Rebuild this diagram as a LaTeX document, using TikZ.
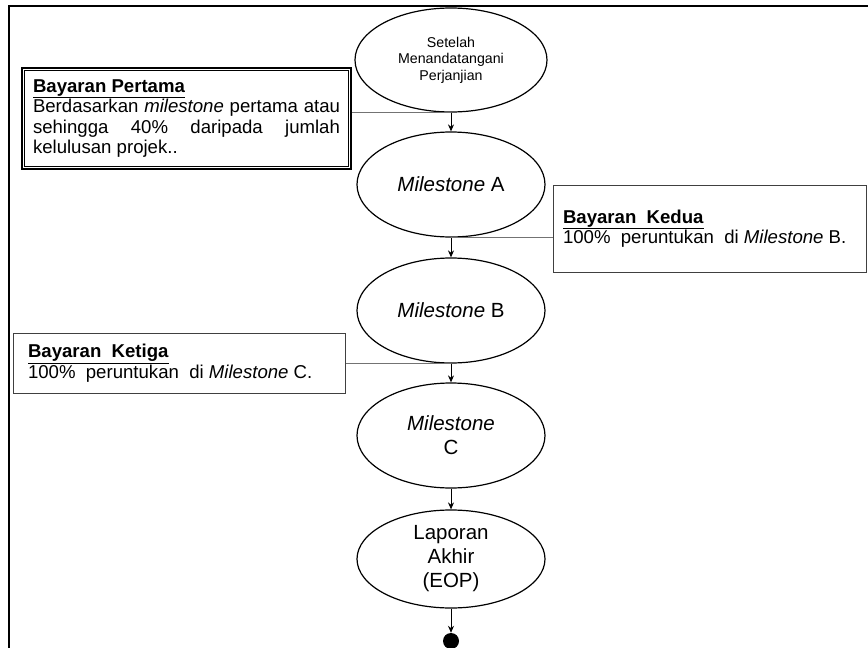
\documentclass[tikz,border=0pt]{standalone}
\usepackage{fontspec}
\setmainfont{Liberation Sans}
\usetikzlibrary{shapes.geometric,arrows.meta}
\begin{document}
\begin{tikzpicture}[x=1pt,y=-1pt,
  ell/.style={draw=black, line width=1.2pt, ellipse, inner sep=0pt, align=center,
    minimum width=188pt, minimum height=105pt, font=\fontsize{20.5}{24}\selectfont},
  pbox/.style={draw=black!75, line width=1pt, inner sep=0pt, rectangle},
  conn/.style={draw=black!55, line width=0.8pt},
  arr/.style={draw=black, line width=1pt, -{Stealth[length=7pt,width=6pt]}},
  btext/.style={font=\fontsize{18.6}{20.5}\selectfont}
]
\useasboundingbox (0,0) rectangle (868,648);
% frame
\draw[line width=2pt] (9,648) -- (9,6) -- (868,6);

% ellipses
\node[ell, minimum width=192pt, minimum height=104pt, font=\fontsize{14.2}{16.5}\selectfont] (e1) at (451,60) {Setelah\\Menandatangani\\Perjanjian};
\node[ell] (e2) at (451,184.5) {\textit{Milestone} A};
\node[ell] (e3) at (451,310.5) {\textit{Milestone} B};
\node[ell] (e4) at (451,435.5) {\textit{Milestone}\\C};
\node[ell, minimum height=98pt] (e5) at (451,559) {Laporan\\Akhir\\(EOP)};
\node[circle, fill=black, inner sep=0pt, minimum size=16pt] (dot) at (451,641) {};

% arrows
\draw[arr] (e1.south) -- (e2.north);
\draw[arr] (e2.south) -- (e3.north);
\draw[arr] (e3.south) -- (e4.north);
\draw[arr] (e4.south) -- (e5.north);
\draw[arr] (e5.south) -- (dot.north);

% box 1 (double border)
\node[pbox, draw=black, line width=1.8pt, minimum width=329pt, minimum height=101pt, btext] (b1) at (186.5,118.5)
  {\parbox{307pt}{\underline{\textbf{Bayaran Pertama}}\par
   Berdasarkan \textit{milestone} pertama atau\linebreak
   sehingga 40\% daripada jumlah\linebreak
   kelulusan projek..}};
\draw[black, line width=0.9pt] ([xshift=3.5pt,yshift=-3.5pt]b1.north west) rectangle ([xshift=-3.5pt,yshift=3.5pt]b1.south east);

% box 2
\node[pbox, minimum width=313pt, minimum height=87pt, btext] (b2) at (709.5,228.5)
  {\parbox{293pt}{\underline{\textbf{Bayaran\ \ Kedua}}\\
   100\%\ \ peruntukan\ \ di \textit{Milestone} B.}};

% box 3
\node[pbox, minimum width=332pt, minimum height=60pt, btext] (b3) at (179,363)
  {\parbox{302pt}{\underline{\textbf{Bayaran\ \ Ketiga}}\\
   100\%\ \ peruntukan\ \ di \textit{Milestone} C.}};

% connectors
\draw[conn] (b1.east |- e1.south) -- (e1.south);
\draw[conn] (e2.south) -- (e2.south -| b2.west);
\draw[conn] (b3.east |- e3.south) -- (e3.south);
\end{tikzpicture}
\end{document}
